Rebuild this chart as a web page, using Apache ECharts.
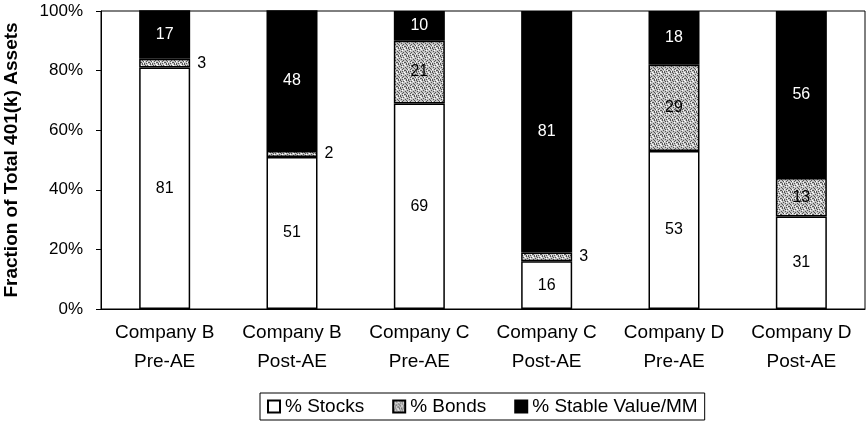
<!DOCTYPE html>
<html>
<head>
<meta charset="utf-8">
<script src="https://cdn.jsdelivr.net/npm/echarts@6/dist/echarts.min.js"></script>
<style>
  html, body { margin: 0; padding: 0; background: #fff; }
  #main { width: 867px; height: 428px; }
</style>
</head>
<body>
<div id="main"></div>
<script>
const categories = ['Company B\nPre-AE', 'Company B\nPost-AE', 'Company C\nPre-AE',
  'Company C\nPost-AE', 'Company D\nPre-AE', 'Company D\nPost-AE'];
const stocks = [81, 51, 69, 16, 53, 31];
const bonds = [3, 2, 21, 3, 29, 13];
const stable = [17, 48, 10, 81, 18, 56];
const yTicks = ['0%', '20%', '40%', '60%', '80%', '100%'];
// bond segments too thin for an inside label
const bondsOutside = [0, 1, 3];

// speckled grey fill for bonds
function speckle () {
  const c = document.createElement('canvas');
  c.width = 8; c.height = 8;
  const ctx = c.getContext('2d');
  ctx.fillStyle = '#c4c4c4';
  ctx.fillRect(0, 0, 8, 8);
  ctx.fillStyle = '#555';
  const dots = [[0,0],[3,1],[6,0],[1,3],[5,3],[2,5],[7,5],[4,6],[0,7],[6,7],[3,4],[7,2],[1,1],[5,6],[2,7],[6,4]];
  dots.forEach(d => ctx.fillRect(d[0], d[1], 1, 1));
  ctx.fillStyle = '#fff';
  [[2,2],[4,0],[0,5],[7,7],[5,1],[3,6]].forEach(d => ctx.fillRect(d[0], d[1], 1, 1));
  return c;
}
const bondFill = { image: speckle(), repeat: 'repeat' };

const font = '"Liberation Sans", Arial, sans-serif';
const border = { borderColor: '#000', borderWidth: 1.5 };

const bondData = bonds.map((v, i) => bondsOutside.includes(i)
  ? { value: v, label: { position: 'right', distance: 7, fontSize: 16 } }
  : v);

const option = {
  animation: false,
  textStyle: { fontFamily: font, color: '#000' },
  grid: {
    left: 101, right: 2, top: 11, bottom: 119,
    outerBoundsMode: 'none',
    containLabel: false,
    show: true, borderColor: '#000', borderWidth: 1
  },
  legend: {
    left: 260, top: 393,
    padding: [4, 7],
    itemGap: 28,
    icon: 'rect',
    itemWidth: 12, itemHeight: 12,
    borderColor: '#000', borderWidth: 1,
    textStyle: { fontSize: 19, color: '#000', fontFamily: font },
    data: ['% Stocks', '% Bonds', '% Stable Value/MM']
  },
  xAxis: {
    type: 'category',
    data: categories,
    axisLine: { lineStyle: { color: '#000', width: 1 } },
    axisTick: { length: 5, lineStyle: { color: '#000' } },
    axisLabel: { color: '#000', fontSize: 19, lineHeight: 29, margin: 9, interval: 0 }
  },
  yAxis: {
    type: 'value',
    min: 0, max: 100, interval: 20,
    name: 'Fraction of Total 401(k) Assets',
    nameLocation: 'middle',
    nameGap: 80,
    nameTextStyle: { fontSize: 19, fontWeight: 'bold', color: '#000', fontFamily: font },
    splitLine: { show: false },
    axisLine: { show: true, lineStyle: { color: '#000' } },
    axisTick: { show: true, length: 5, lineStyle: { color: '#000' } },
    axisLabel: {
      color: '#000', fontSize: 17, margin: 18,
      formatter: v => yTicks[v / 20]
    }
  },
  series: [
    {
      name: '% Stocks', type: 'bar', stack: 'a', barWidth: 51,
      data: stocks,
      itemStyle: Object.assign({ color: '#fff' }, border),
      label: { show: true, position: 'inside', color: '#000', fontSize: 16 }
    },
    {
      name: '% Bonds', type: 'bar', stack: 'a', barWidth: 51,
      data: bondData,
      itemStyle: Object.assign({ color: bondFill }, border),
      label: { show: true, position: 'inside', color: '#000', fontSize: 16 }
    },
    {
      name: '% Stable Value/MM', type: 'bar', stack: 'a', barWidth: 51,
      data: stable,
      itemStyle: Object.assign({ color: '#000' }, border),
      label: { show: true, position: 'inside', color: '#fff', fontSize: 16 }
    }
  ]
};

const myChart = echarts.init(document.getElementById('main'));
myChart.setOption(option);
</script>
</body>
</html>
